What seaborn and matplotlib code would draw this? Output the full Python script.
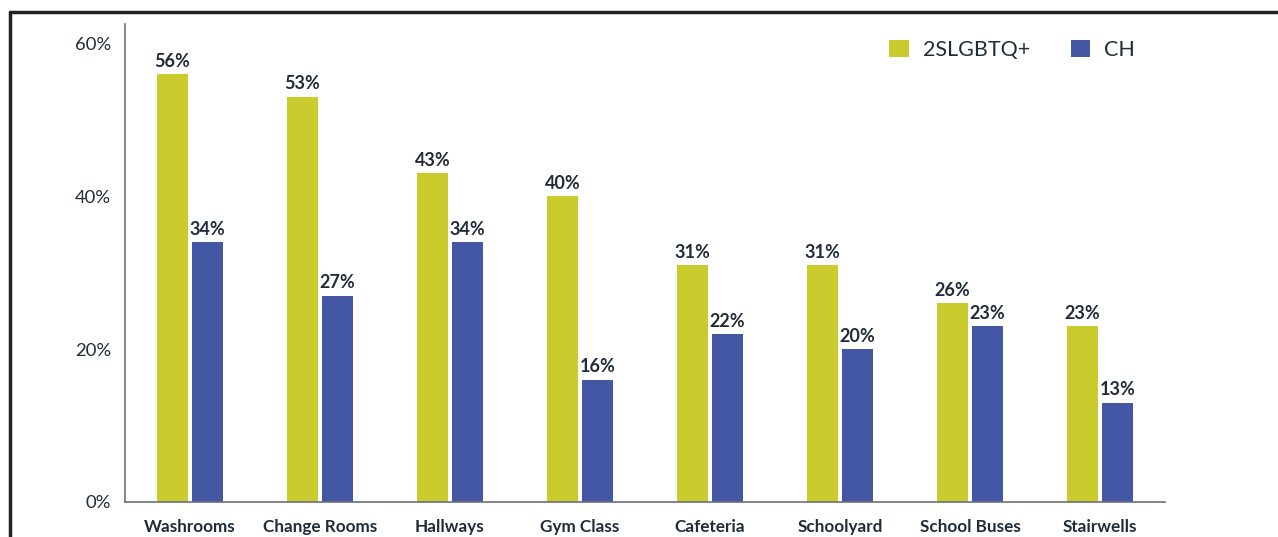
import matplotlib
matplotlib.use("Agg")
import matplotlib.pyplot as plt
from matplotlib.lines import Line2D
from matplotlib.patches import Patch
import seaborn as sns
import pandas as pd

categories = ["Washrooms", "Change Rooms", "Hallways", "Gym Class",
              "Cafeteria", "Schoolyard", "School Buses", "Stairwells"]
lgbtq_values = [56, 53, 43, 40, 31, 31, 26, 23]
ch_values = [34, 27, 34, 16, 22, 20, 23, 13]
series_names = ["2SLGBTQ+", "CH"]
yticks = [0, 20, 40, 60]
ytick_labels = ["0%", "20%", "40%", "60%"]

GREEN = "#C9CC2C"
BLUE = "#4357A5"
TEXT = "#222B3A"
AXIS = "#6B6F7A"

df = pd.DataFrame({
    "category": categories * 2,
    "value": lgbtq_values + ch_values,
    "series": [series_names[0]] * len(categories) + [series_names[1]] * len(categories),
})

sns.set_style("white")
plt.rcParams["font.family"] = ["Lato", "DejaVu Sans"]

fig = plt.figure(figsize=(12.78, 5.37), dpi=100)
ax = fig.add_axes([125 / 1278, 1 - 502 / 537, 1040 / 1278, (502 - 24) / 537])

sns.barplot(data=df, x="category", y="value", hue="series", order=categories,
            hue_order=series_names, palette=[GREEN, BLUE], width=0.54, gap=0.14,
            ax=ax, legend=False, saturation=1, linewidth=0)

for cont in ax.containers:
    labels = [f"{int(round(b.get_height()))}%" for b in cont]
    ax.bar_label(cont, labels=labels, padding=3, fontsize=13, fontweight="bold", color=TEXT)

ax.set_ylim(0, 62.5)
ax.set_xlim(-0.5, len(categories) - 0.5)
ax.set_yticks(yticks)
ax.set_yticklabels(ytick_labels, fontsize=13.3, color=TEXT)
ax.tick_params(axis="y", length=0, pad=10)
ax.tick_params(axis="x", length=0, pad=12)
for lbl in ax.get_xticklabels():
    lbl.set_fontweight("bold")
    lbl.set_fontsize(12.3)
    lbl.set_color(TEXT)
ax.set_xlabel("")
ax.set_ylabel("")
for s in ["top", "right"]:
    ax.spines[s].set_visible(False)
for s in ["left", "bottom"]:
    ax.spines[s].set_color(AXIS)
    ax.spines[s].set_linewidth(1.2)

handles = [Patch(facecolor=GREEN, edgecolor="none"), Patch(facecolor=BLUE, edgecolor="none")]
leg = ax.legend(handles, series_names, loc="upper right", bbox_to_anchor=(0.99, 1.008),
                ncol=2, frameon=False, fontsize=15.5, handlelength=0.9, handleheight=0.9,
                handletextpad=0.65, columnspacing=1.9, labelcolor=TEXT)

# outer frame (top and left edges)
fig.add_artist(Line2D([10 / 1278, 1.0], [1 - 12 / 537, 1 - 12 / 537], color="#222222", lw=2.5,
                      transform=fig.transFigure))
fig.add_artist(Line2D([10 / 1278, 10 / 1278], [0.0, 1 - 12 / 537], color="#222222", lw=2.5,
                      transform=fig.transFigure))

fig.savefig("out.png", dpi=100)
